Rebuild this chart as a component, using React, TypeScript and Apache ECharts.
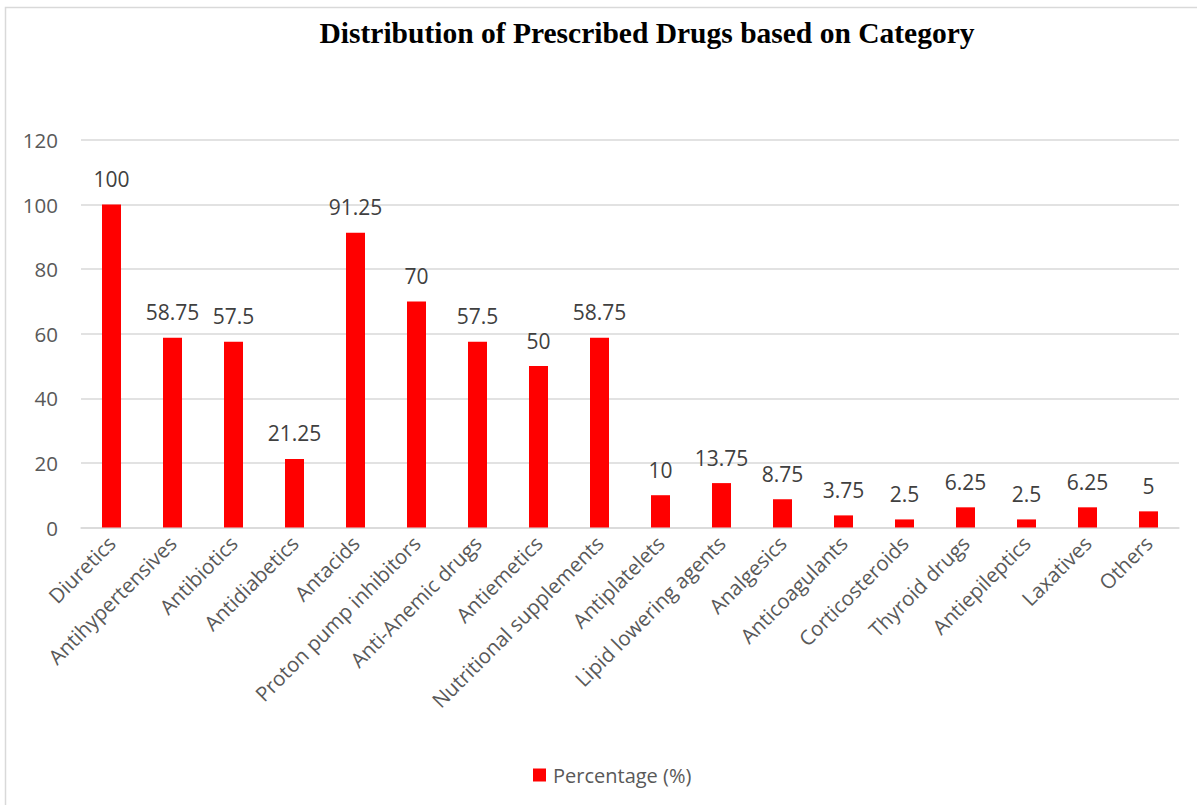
import React, { useEffect, useRef } from "react";
import * as echarts from "echarts";

const categories = [
  "Diuretics",
  "Antihypertensives",
  "Antibiotics",
  "Antidiabetics",
  "Antacids",
  "Proton pump inhibitors",
  "Anti-Anemic drugs",
  "Antiemetics",
  "Nutritional supplements",
  "Antiplatelets",
  "Lipid lowering agents",
  "Analgesics",
  "Anticoagulants",
  "Corticosteroids",
  "Thyroid drugs",
  "Antiepileptics",
  "Laxatives",
  "Others",
];

const percentages = [
  100, 58.75, 57.5, 21.25, 91.25, 70, 57.5, 50, 58.75, 10, 13.75, 8.75, 3.75,
  2.5, 6.25, 2.5, 6.25, 5,
];

const yTicks = { min: 0, max: 120, interval: 20 };

const seriesName = "Percentage (%)";
const chartTitle = "Distribution of Prescribed Drugs based on Category";

const textColor = "#595959";
const gridColor = "#d9d9d9";
const labelFont = "'Open Sans', 'Noto Sans', sans-serif";

export default function App() {
  const ref = useRef<HTMLDivElement>(null);

  useEffect(() => {
    document.body.style.margin = "0";
    if (!ref.current) return;
    const chart = echarts.init(ref.current, null, { renderer: "svg" });
    chart.setOption({
      animation: false,
      backgroundColor: "#ffffff",
      title: {
        text: chartTitle,
        left: 642,
        textAlign: "center",
        top: 13,
        textStyle: {
          fontFamily: "'Liberation Serif', 'Times New Roman', serif",
          fontWeight: "bold",
          fontSize: 29.5,
          color: "#000000",
        },
      },
      graphic: [
        {
          type: "rect",
          shape: { x: 5.5, y: 7.5, width: 1220, height: 830 },
          style: { fill: "none", stroke: gridColor, lineWidth: 1.5 },
          silent: true,
          z: -1,
        },
      ],
      legend: {
        left: 528,
        top: 760,
        itemWidth: 13,
        itemHeight: 13,
        icon: "rect",
        textStyle: {
          fontFamily: labelFont,
          fontSize: 20,
          color: textColor,
          padding: [0, 0, 0, 2],
        },
        data: [seriesName],
      },
      grid: { left: 81, right: 18, top: 140, bottom: 277.5, containLabel: false },
      xAxis: {
        type: "category",
        data: categories,
        axisLine: { show: true, lineStyle: { color: gridColor, width: 1.5 } },
        axisTick: { show: false },
        axisLabel: {
          rotate: 45,
          interval: 0,
          margin: 12,
          fontFamily: labelFont,
          fontSize: 20.5,
          color: textColor,
        },
      },
      yAxis: {
        type: "value",
        min: yTicks.min,
        max: yTicks.max,
        interval: yTicks.interval,
        axisLine: { show: false },
        axisTick: { show: false },
        splitLine: { lineStyle: { color: gridColor, width: 1.5 } },
        axisLabel: {
          margin: 23,
          fontFamily: labelFont,
          fontSize: 20.5,
          color: textColor,
        },
      },
      series: [
        {
          name: seriesName,
          type: "bar",
          data: percentages,
          barWidth: 19,
          itemStyle: { color: "#ff0000" },
          label: {
            show: true,
            position: "top",
            distance: 15,
            fontFamily: labelFont,
            fontSize: 21,
            color: "#404040",
          },
        },
      ],
    });
    return () => chart.dispose();
  }, []);

  return <div ref={ref} style={{ width: 1197, height: 805 }} />;
}
